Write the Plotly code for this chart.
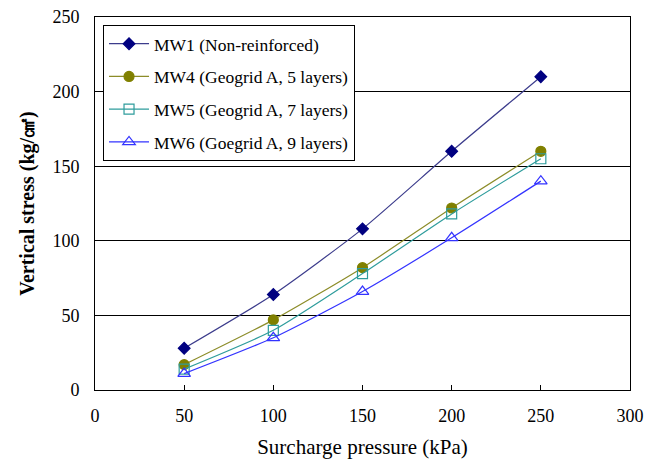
import plotly.graph_objects as go

pressure = [50, 100, 150, 200, 250]
mw1 = [28, 64, 108, 160, 210]
mw4 = [17, 47, 82, 122, 160]
mw5 = [14, 40, 78, 118, 155]
mw6 = [11, 35, 66, 102, 140]

names = ["MW1 (Non-reinforced)", "MW4 (Geogrid A, 5 layers)",
         "MW5 (Geogrid A, 7 layers)", "MW6 (Goegrid A, 9 layers)"]
series = [mw1, mw4, mw5, mw6]
line_colors = ["#3c3c8c", "#8c8c28", "#2e9c9c", "#3333ff"]
marker_colors = ["#000080", "#808000", "#2e9c9c", "#3333ff"]
symbols = ["diamond", "circle", "square-open", "triangle-up-open"]
sizes = [9, 10, 10, 11]

fig = go.Figure()
for i, (n, s, lc, mc, sym, sz) in enumerate(zip(names, series, line_colors, marker_colors, symbols, sizes)):
    fig.add_trace(go.Scatter(
        x=pressure, y=s, name=n, mode="lines+markers", legendgroup=f"g{i}",
        line=dict(color=lc, width=1.2, shape="spline", smoothing=0.6),
        marker=dict(symbol=sym, color=mc, size=sz, line=dict(color=mc, width=1.2)),
    ))

font_family = "Liberation Serif, Times New Roman, serif"
fig.update_layout(
    width=660, height=462,
    margin=dict(l=95, r=30, t=17, b=72),
    paper_bgcolor="white", plot_bgcolor="white",
    font=dict(family=font_family, size=18, color="black"),
    showlegend=True,
    legend=dict(x=0.015, y=0.979, xanchor="left", yanchor="top",
                bgcolor="white", bordercolor="black", borderwidth=1,
                font=dict(size=17.5, family=font_family), tracegroupgap=7,
                itemwidth=40),
    xaxis=dict(range=[0, 300], dtick=50, tick0=0, showgrid=False,
               showline=True, linecolor="black", linewidth=1, mirror=True,
               ticks="inside", ticklen=5, tickcolor="black",
               zeroline=False, ticklabelstandoff=9, automargin=False,
               title=dict(text="Surcharge pressure (kPa)", font=dict(size=21), standoff=14)),
    yaxis=dict(range=[0, 250], dtick=50, tick0=0, showgrid=True,
               gridcolor="black", gridwidth=1,
               showline=True, linecolor="black", linewidth=1, mirror=True,
               ticks="inside", ticklen=5, tickcolor="black",
               zeroline=False, ticklabelstandoff=11, automargin=False,
               title=dict(text="<b>Vertical stress (kg/㎠)</b>", font=dict(size=20), standoff=12)),
)

fig.write_html("out.html")
